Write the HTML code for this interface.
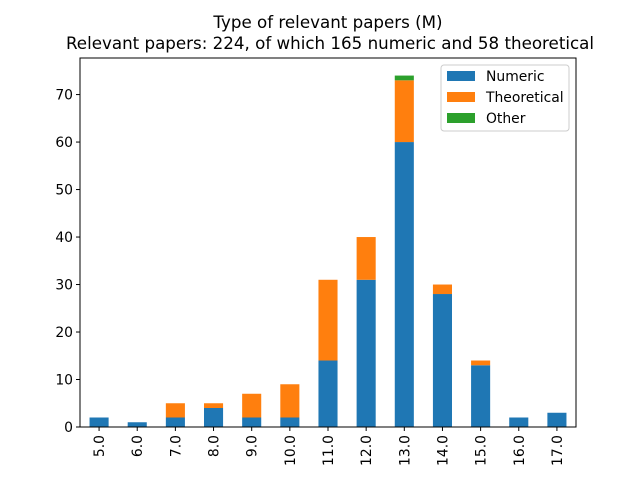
<!DOCTYPE html>
<html><head><meta charset="utf-8"><style>
body{margin:0;background:#fff;}
svg text{font-family:"DejaVu Sans","Liberation Sans",sans-serif;}
</style></head><body>
<svg id="chart" width="640" height="480" xmlns="http://www.w3.org/2000/svg">
<text x="328" y="28" text-anchor="middle" font-size="16.7">Type of relevant papers (M)</text>
<text x="330" y="49" text-anchor="middle" font-size="16.7">Relevant papers: 224, of which 165 numeric and 58 theoretical</text>
<g id="bars"></g>
<g id="yaxis"></g>
<g id="xaxis"></g>
<rect x="80" y="58" width="496" height="369" fill="none" stroke="#000" stroke-width="1"/>
<g>
<rect x="441" y="65" width="128" height="66" fill="#fff" stroke="#ccc" rx="3"/>
<rect x="447" y="71" width="28" height="10" fill="#1f77b4"/>
<text x="486" y="81" font-size="13.9">Numeric</text>
<rect x="447" y="92" width="28" height="10" fill="#ff7f0e"/>
<text x="486" y="102" font-size="13.9">Theoretical</text>
<rect x="447" y="113" width="28" height="10" fill="#2ca02c"/>
<text x="486" y="123" font-size="13.9">Other</text>
</g>
</svg>
<script>
const categories=["5.0","6.0","7.0","8.0","9.0","10.0","11.0","12.0","13.0","14.0","15.0","16.0","17.0"];
const numeric=[2,1,2,4,2,2,14,31,60,28,13,2,3];
const theoretical=[0,0,3,1,5,7,17,9,13,2,1,0,0];
const other=[0,0,0,0,0,0,0,0,1,0,0,0,0];
const yTicks=[0,10,20,30,40,50,60,70];
const NS="http://www.w3.org/2000/svg";
const L=80,R=576,T=58,B=427,yMax=77.7;
const y=v=>B-v*(B-T)/yMax;
const step=(R-L)/categories.length;
const xc=i=>L+step*(i+0.5);
const bw=step*0.5;
function mk(tag,attrs,parent){const e=document.createElementNS(NS,tag);for(const k in attrs)e.setAttribute(k,attrs[k]);parent.appendChild(e);return e;}
const gb=document.getElementById('bars'),gy=document.getElementById('yaxis'),gx=document.getElementById('xaxis');
const series=[[numeric,"#1f77b4","numeric"],[theoretical,"#ff7f0e","theoretical"],[other,"#2ca02c","other"]];
categories.forEach((c,i)=>{
  let base=0;
  series.forEach(([arr,col,nm])=>{
    const v=arr[i];
    if(v>0){
      const r=mk('rect',{x:xc(i)-bw/2,y:y(base+v),width:bw,height:y(base)-y(base+v),fill:col},gb);
      
      
    }
    base+=v;
  });
  const t=mk('line',{x1:xc(i),x2:xc(i),y1:B,y2:B+4,stroke:'#000'},gx);
  
  
  const tx=mk('text',{x:0,y:0,'font-size':13.9,'text-anchor':'end',transform:`translate(${xc(i)+5},${B+8}) rotate(-90)`},gx);
  tx.textContent=c;
  
  
});
yTicks.forEach(v=>{
  const t=mk('line',{x1:L-4,x2:L,y1:y(v),y2:y(v),stroke:'#000'},gy);
  
  
  const tx=mk('text',{x:L-7,y:y(v)+5,'font-size':13.9,'text-anchor':'end'},gy);
  tx.textContent=v;
  
  
});
</script>
</body></html>
